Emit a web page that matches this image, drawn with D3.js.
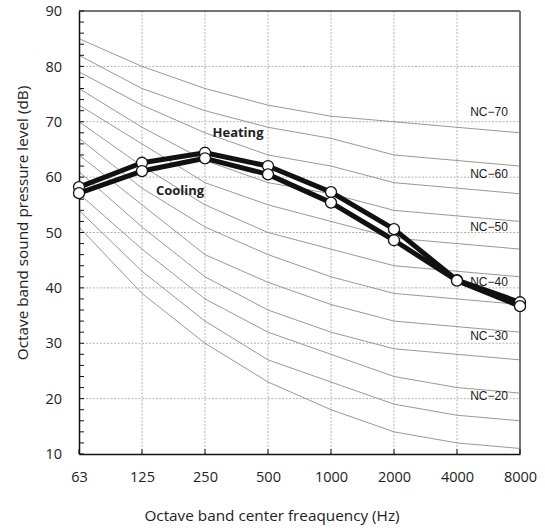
<!DOCTYPE html>
<html>
<head>
<meta charset="utf-8">
<script src="https://cdn.jsdelivr.net/npm/d3@7"></script>
<style>
  html, body { margin: 0; padding: 0; background: #fff; }
  svg { display: block; }
</style>
</head>
<body>
<svg id="chart" width="545" height="531"></svg>
<script>
// ---------- DATA ----------
const categories = ["63", "125", "250", "500", "1000", "2000", "4000", "8000"];
const yTicks = [10, 20, 30, 40, 50, 60, 70, 80, 90];

const heating = [58.2, 62.6, 64.4, 62.0, 57.3, 50.6, 41.4, 37.4];
const cooling = [57.1, 61.1, 63.4, 60.5, 55.4, 48.6, 41.3, 36.7];

// NC reference curves, NC-70 down to NC-15
const ncNames = ["NC-70", "NC-65", "NC-60", "NC-55", "NC-50", "NC-45", "NC-40", "NC-35", "NC-30", "NC-25", "NC-20", "NC-15"];
const nc70 = [85, 80, 76, 73, 71, 70, 69, 68];
const nc65 = [82, 76, 72, 69, 67, 64, 63, 62];
const nc60 = [79, 73, 68, 64, 62, 59, 58, 57];
const nc55 = [76, 69, 63, 59, 57, 54, 53, 52];
const nc50 = [73, 66, 59, 55, 52, 49, 48, 47];
const nc45 = [70, 62, 55, 50, 47, 44, 43, 42];
const nc40 = [67, 58, 51, 46, 42, 39, 38, 37];
const nc35 = [64, 55, 46, 41, 37, 34, 33, 32];
const nc30 = [61, 51, 42, 36, 32, 29, 28, 27];
const nc25 = [57, 47, 38, 32, 28, 24, 22, 21];
const nc20 = [54, 43, 34, 27, 23, 19, 17, 16];
const nc15 = [51, 39, 30, 23, 18, 14, 12, 11];
const ncCurves = [nc70, nc65, nc60, nc55, nc50, nc45, nc40, nc35, nc30, nc25, nc20, nc15];

// NC curve labels and the level at which each label sits
const ncLabelText = ["NC\u221270", "NC\u221260", "NC\u221250", "NC\u221240", "NC\u221230", "NC\u221220"];
const ncLabelLevel = [71, 59.8, 50.2, 40.3, 30.5, 19.7];

// ---------- LAYOUT ----------
const margin = { left: 79, right: 25, top: 11, bottom: 77 };
const W = 545, H = 531;
const svg = d3.select("#chart");

const x = d3.scalePoint().domain(categories).range([margin.left, W - margin.right]);
const y = d3.scaleLinear().domain([10, 90]).range([H - margin.bottom, margin.top]);

const x0 = x.range()[0], x1 = x.range()[1];
const y0 = y.range()[0], y1 = y.range()[1];

const font = "'Open Sans', 'DejaVu Sans', sans-serif";

// Gridlines
const grid = svg.append("g");
grid.selectAll("line.hg").data(yTicks.filter(d => d > 10 && d < 90)).enter().append("line")
  .attr("x1", x0).attr("x2", x1)
  .attr("y1", d => y(d)).attr("y2", d => y(d))
  .attr("stroke", "#b4b4b4").attr("stroke-width", 1).attr("stroke-dasharray", "2,1.5");
grid.selectAll("line.vg").data(categories.slice(1, -1)).enter().append("line")
  .attr("x1", d => x(d)).attr("x2", d => x(d))
  .attr("y1", y0).attr("y2", y1)
  .attr("stroke", "#b4b4b4").attr("stroke-width", 1).attr("stroke-dasharray", "2,1.5");

// NC curves
const ncLine = d3.line().x((d, i) => x(categories[i])).y(d => y(d));
svg.append("g").selectAll("path").data(ncCurves).enter().append("path")
  .attr("d", d => ncLine(d))
  .attr("fill", "none").attr("stroke", "#8c8c8c").attr("stroke-width", 0.9);

// NC labels
svg.append("g").selectAll("text").data(ncLabelText).enter().append("text")
  .attr("x", 489).attr("y", (d, i) => y(ncLabelLevel[i]))
  .attr("text-anchor", "middle")
  .attr("font-family", "'Liberation Sans', Arial, sans-serif")
  .attr("font-size", 12).attr("fill", "#1a1a1a")
  .text(d => d);

// Frame: top and right
svg.append("line").attr("x1", x0).attr("x2", x1).attr("y1", y1).attr("y2", y1)
  .attr("stroke", "#444").attr("stroke-width", 1.5);
svg.append("line").attr("x1", x1).attr("x2", x1).attr("y1", y1).attr("y2", y0)
  .attr("stroke", "#777").attr("stroke-width", 2);

// Axes
const yAxis = d3.axisLeft(y).tickValues(yTicks).tickSize(0).tickPadding(17).tickFormat(d3.format("d"));
const gy = svg.append("g").attr("transform", `translate(${x0},0)`).call(yAxis);
gy.select(".domain").attr("stroke", "#111").attr("stroke-width", 1.5);
gy.selectAll("text").attr("font-family", font).attr("font-size", 14.5).attr("fill", "#222");

// y minor ticks (inside)
svg.append("g").selectAll("line").data(d3.range(10, 91, 2)).enter().append("line")
  .attr("x1", x0).attr("x2", x0 + 5)
  .attr("y1", d => y(d)).attr("y2", d => y(d))
  .attr("stroke", "#111").attr("stroke-width", 1);

const xAxis = d3.axisBottom(x).tickSize(0).tickPadding(18);
const gx = svg.append("g").attr("transform", `translate(0,${y0})`).call(xAxis);
gx.select(".domain").attr("stroke", "#111").attr("stroke-width", 1.5);
gx.selectAll("text").attr("font-family", font).attr("font-size", 14.5).attr("fill", "#222");

// x ticks (inside)
svg.append("g").selectAll("line").data(categories).enter().append("line")
  .attr("x1", d => x(d)).attr("x2", d => x(d))
  .attr("y1", y0).attr("y2", y0 - 5)
  .attr("stroke", "#111").attr("stroke-width", 1);

// Axis titles
svg.append("text").attr("x", 272).attr("y", 521)
  .attr("text-anchor", "middle").attr("font-family", font).attr("font-size", 15.3).attr("fill", "#222")
  .text("Octave band center freaquency (Hz)");
svg.append("text").attr("transform", `translate(27.5,223) rotate(-90)`)
  .attr("text-anchor", "middle").attr("font-family", font).attr("font-size", 15.3).attr("fill", "#222")
  .text("Octave band sound pressure level (dB)");

// Data series
const dataLine = d3.line().x((d, i) => x(categories[i])).y(d => y(d));
const series = [heating, cooling];
svg.append("g").selectAll("path").data(series).enter().append("path")
  .attr("d", d => dataLine(d))
  .attr("fill", "none").attr("stroke", "#111").attr("stroke-width", 5)
  .attr("stroke-linejoin", "round");
series.forEach(s => {
  svg.append("g").selectAll("circle").data(s).enter().append("circle")
    .attr("cx", (d, i) => x(categories[i])).attr("cy", d => y(d))
    .attr("r", 5.5).attr("fill", "#fff").attr("stroke", "#111").attr("stroke-width", 1.3);
});

// Series labels
svg.append("text").attr("x", 238).attr("y", 137)
  .attr("text-anchor", "middle").attr("font-family", font).attr("font-weight", "bold")
  .attr("font-size", 13).attr("fill", "#222").text("Heating");
svg.append("text").attr("x", 180).attr("y", 195)
  .attr("text-anchor", "middle").attr("font-family", font).attr("font-weight", "bold")
  .attr("font-size", 13).attr("fill", "#222").text("Cooling");
</script>
</body>
</html>
